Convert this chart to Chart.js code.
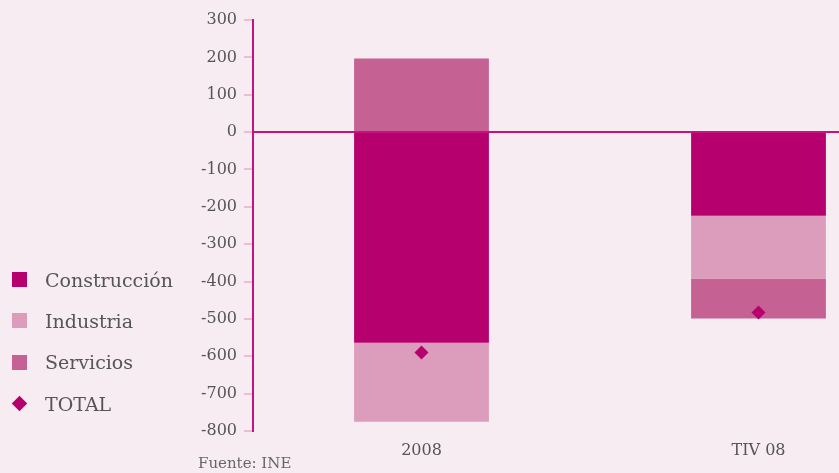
<!DOCTYPE html>
<html><head><meta charset="utf-8">
<script src="https://cdn.jsdelivr.net/npm/chart.js@4.4.1/dist/chart.umd.min.js"></script>
<style>
html,body{margin:0;padding:0;background:#f8ecf3;width:839px;height:473px;overflow:hidden;font-family:"DejaVu Serif",serif;}
#wrap{position:absolute;left:0;top:0;width:934px;height:473px;}
#legend{position:absolute;left:12px;top:259px;}
.item{height:41.3px;display:flex;align-items:center;font-size:19px;color:#555;}
.sw{width:15px;height:15px;margin-right:18px;}
.dm{width:11px;height:11px;transform:rotate(45deg);margin:0 20px 0 2px;}
#src{position:absolute;left:198px;top:454px;font-size:15px;color:#666;}
</style></head>
<body>
<div id="wrap"><canvas id="c" width="934" height="473"></canvas></div>
<div id="legend"></div>
<div id="src">Fuente: INE</div>
<script>
const categories = ["2008", "TIV 08"];
const construccion = [-564, -224];
const industria = [-211, -168];
const servicios = [197, -107];
const total = [-590, -483];
const yTicks = [-800,-700,-600,-500,-400,-300,-200,-100,0,100,200,300];

const colors = {c:'#b5006e', i:'#dc9dbd', s:'#c66194', t:'#b5006e'};

const chart = new Chart(document.getElementById('c'), {
  type: 'bar',
  data: {
    labels: categories,
    datasets: [
      {type:'line', label:'TOTAL', data: total, stack:'total', showLine:false, pointStyle:'rectRot', pointRadius:7, pointHoverRadius:7, backgroundColor:colors.t, borderColor:colors.t, borderWidth:0, order:0},
      {label:'Construcción', data: construccion, backgroundColor: colors.c, stack:'a', order:1},
      {label:'Industria', data: industria, backgroundColor: colors.i, stack:'a', order:1},
      {label:'Servicios', data: servicios, backgroundColor: colors.s, stack:'a', order:1}
    ]
  },
  options: {
    responsive:false, animation:false, devicePixelRatio:1,
    layout:{padding:{top:20, left:0, right:0, bottom:0}},
    categoryPercentage:1, barPercentage:0.4,
    plugins:{legend:{display:false}, tooltip:{enabled:false}},
    scales:{
      x:{stacked:true, grid:{display:false}, border:{display:false},
         ticks:{color:'#555', font:{family:'DejaVu Serif', size:16}, padding:2},
         afterFit(s){ s.height = 42; }},
      y:{stacked:true, min:-800, max:300,
         afterBuildTicks(s){ s.ticks = yTicks.map(v=>({value:v})); },
         afterFit(s){ s.width = 253; },
         border:{display:true, color:'#c8127f', width:2},
         grid:{drawOnChartArea:true, lineWidth:2, tickLength:9, tickWidth:2,
               color:(ctx)=> (ctx.tick && ctx.tick.value===0) ? '#c8127f' : 'rgba(0,0,0,0)',
               tickColor:'#ebbcd4'},
         ticks:{color:'#555', font:{family:'DejaVu Serif', size:16}, padding:7}
      }
    }
  }
});

const lg = document.getElementById('legend');
const order = [1,2,3,0];
order.forEach(idx=>{
  const ds = chart.data.datasets[idx];
  const row = document.createElement('div'); row.className='item';
  const sw = document.createElement('div');
  sw.className = ds.type==='line' ? 'dm' : 'sw';
  sw.style.background = ds.backgroundColor;
  row.appendChild(sw);
  const t = document.createElement('span'); t.textContent = ds.label; row.appendChild(t);
  lg.appendChild(row);
});
</script>
</body></html>
